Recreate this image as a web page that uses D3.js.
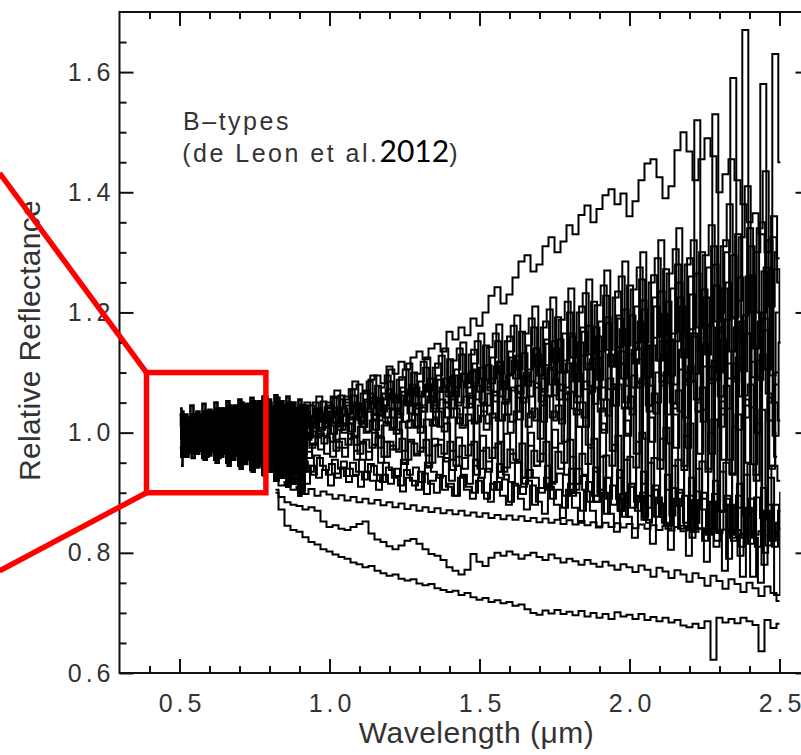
<!DOCTYPE html>
<html>
<head>
<meta charset="utf-8">
<script src="https://cdn.jsdelivr.net/npm/d3@7/dist/d3.min.js"></script>
<style>
  body { margin: 0; background: #fff; }
  svg { display: block; }
</style>
</head>
<body>
<div id="chart"></div>
<script>
// Spectra, reflectance x 1000.
// Visible part: every 0.01 um from about 0.50 um (each object sampled on its own grid).
const visStep = 0.01;
const visStarts = [0.500, 0.504, 0.507, 0.502, 0.505, 0.508, 0.501, 0.506, 0.503, 0.509, 0.5015, 0.5045, 0.5075, 0.5055];
const vis1 = [1030,1012,1025,1008,1021,1015,1030,1010,1024,1018,1035,1012,1026,1020,1038,1015,1030,1022,1040,1018,1034,1025,1042,1020,1036,1028,1048,1022,1040,1030,1055,1025,1044,1032,1050,1028,1046,1035,1040,1022,1038,1030,1025];
const vis2 = [1005,990,1012,985,1000,1015,992,1008,995,1018,988,1004,1012,990,1010,998,1020,985,1006,1014,992,1010,1000,1024,990,1008,1016,994,1012,1002,1026,988,1010,1018,995,1012,1004,1022,990,1008,1000,1015,995];
const vis3 = [980,1000,965,990,975,995,970,985,1002,968,988,978,996,965,984,975,992,962,982,970,990,960,978,968,986,955,975,965,982,950,972,960,978,945,968,955,972,940,962,950,968,935,955];
const vis4 = [990,1010,975,998,985,1005,978,994,982,1000,972,990,980,995,968,985,975,990,962,980,970,985,955,975,962,978,945,968,955,970,935,958,945,962,925,950,935,952,915,940,925,945,905];
const vis5 = [945,1020,960,1005,970,1015,985,1000,975,1010,990,1025,980,1000,995,1015,975,1005,990,1020,985,1000,1010,995,1025,980,1005,1015,990,1030,985,1010,1000,1020,975,1005,995,1015,980,1000,990,1010,985];
const vis6 = [1035,985,1020,995,1030,975,1015,1000,1035,980,1020,1005,1040,985,1025,1000,1045,978,1018,1008,1050,982,1022,1000,1052,975,1025,1005,1060,970,1030,1000,1058,965,1025,995,1050,960,1020,990,1045,958,1010];
const vis7 = [975,960,985,968,980,970,965,982,958,975,962,978,955,970,960,975,950,968,955,970,945,962,948,965,938,958,942,955,930,948,935,945,920,940,925,938,910,930,915,925,895,920,900];
const vis8 = [1010,1025,995,1018,1005,1022,1000,1030,1008,1020,1035,1002,1028,1012,1040,1005,1025,1018,1045,1008,1030,1015,1048,1010,1032,1020,1052,1005,1035,1022,1040,1000,1030,1015,1045,1002,1025,1010,1035,998,1020,1008,1030];
const vis9 = [995,1015,1000,970,1008,990,1012,985,1005,975,998,1010,980,1002,990,1015,972,995,985,1008,968,992,980,1005,962,988,975,1000,958,985,970,995,950,980,965,990,945,975,960,985,940,970,955];
const vis10 = [1020,1000,1005,1025,992,1010,1000,1028,995,1015,1005,1030,990,1012,1002,1032,985,1010,998,1035,982,1008,995,1038,980,1005,990,1040,975,1002,988,1035,970,998,985,1030,965,995,980,1025,960,990,975];
const vis11 = [1040,960,1030,970,1045,965,1035,975,1048,960,1038,968,1050,958,1040,965,1052,955,1042,962,1055,950,1045,958,1058,945,1048,952,1060,940,1050,948,1062,930,1052,940,1060,920,1050,930,1055,910,1045];
const vis12 = [990,1005,980,1000,985,1010,975,998,988,1012,978,1002,990,1015,972,1000,985,1018,970,998,982,1020,965,995,980,1022,960,992,975,1025,955,990,970,1020,948,985,965,1018,940,980,958,1012,935];
const vis13 = [1015,1028,1002,1022,1010,1030,998,1025,1012,1035,1000,1028,1015,1038,995,1030,1018,1042,992,1032,1020,1045,990,1035,1022,1048,985,1038,1025,1050,980,1040,1022,1052,975,1038,1020,1048,970,1035,1015,1045,965];
const vis14 = [960,985,970,995,958,982,975,1000,955,980,972,998,950,978,970,995,945,975,968,992,940,972,962,990,935,968,958,985,928,962,952,980,920,958,948,975,912,950,940,970,900,945,935];

// Near-infrared part: every 0.02 um from about 0.82 um up to 2.50 um.
const nirStep = 0.02;
const nirStarts = [0.820, 0.820, 0.820, 0.828, 0.812, 0.824, 0.816, 0.830, 0.822, 0.820, 0.826, 0.814, 0.818, 0.832, 0.810, 0.827, 0.823, 0.815, 0.825, 0.817];
const nir1 = [900,872,845,838,835,826,818,814,806,802,797,793,790,784,781,776,778,770,766,762,764,757,754,756,749,746,748,741,738,735,737,730,733,726,722,725,718,721,716,718,712,714,706,700,697,704,699,705,698,702,696,703,694,700,692,698,690,701,694,697,690,698,688,693,686,692,684,688,679,676,682,675,686,622,692,684,690,683,692,686,680,636,688,675,682];
const nir2 = [905,893,884,880,878,872,876,870,852,843,846,840,838,843,848,852,832,822,818,811,806,812,820,823,815,806,798,795,788,776,770,764,772,798,785,778,792,800,795,802,797,790,796,800,793,788,797,791,784,790,786,780,788,782,777,785,779,772,781,776,768,779,772,760,775,769,758,771,764,752,766,758,745,762,753,740,756,748,735,750,741,728,744,733,720];
const nir3 = [925,912,918,905,910,898,906,895,902,897,890,896,887,893,884,890,882,888,879,884,876,882,873,879,870,876,868,874,866,871,864,870,862,867,860,866,858,863,856,862,855,861,853,858,851,857,850,855,848,854,847,853,846,851,844,850,843,849,842,848,841,847,840,846,838,845,837,843,836,842,835,841,834,840,833,839,832,838,831,837,830,836,829,835,828];
const nir4 = [955,940,962,935,950,945,930,958,938,948,925,952,940,930,955,935,945,920,950,938,928,955,930,942,918,950,935,925,958,920,945,930,915,955,925,940,905,948,930,918,952,910,938,925,900,945,918,932,895,940,915,928,885,942,905,925,880,938,900,915,870,935,895,912,860,930,888,905,850,925,880,900,835,920,870,895,820,915,862,890,810,908,855,880,840];
const nir5 = [975,990,962,985,970,995,958,980,972,992,960,985,975,998,955,982,968,1000,950,985,972,1005,948,988,965,1010,942,990,960,1015,938,992,958,1020,930,995,952,1025,925,998,950,1035,915,1000,945,1045,905,1005,940,1055,895,1010,930,1065,885,1015,925,1075,870,1020,915,1085,860,1025,905,1095,845,1030,900,1100,835,1035,890,1110,820,1040,880,1115,810,1045,870,1120,800,1050,960];
const nir6 = [985,1000,975,995,990,1008,980,1002,995,1012,988,1005,1015,992,1010,1000,1020,995,1012,1025,998,1018,1008,1030,1000,1022,1012,1035,1002,1025,1040,1008,1030,1015,1045,1005,1032,1020,1050,1000,1035,1058,1010,1040,990,1062,1025,1045,985,1068,1030,1050,980,1075,1035,1055,970,1080,1040,1060,965,1090,1045,1065,955,1100,1050,1070,945,1110,1055,1075,940,1120,1060,1078,930,1125,1062,1080,920,1130,1065,1050,1020];
const nir7 = [995,1010,990,1015,1002,1020,995,1025,1008,1018,1030,1005,1028,1015,1038,1010,1035,1022,1045,1015,1040,1030,1052,1020,1048,1035,1060,1025,1055,1042,1068,1030,1060,1048,1078,1035,1065,1052,1085,1030,1070,1058,1095,1025,1075,1062,1105,1020,1080,1065,1115,1010,1085,1070,1125,1000,1090,1072,1135,995,1095,1075,1145,985,1100,1078,1155,975,1105,1080,1165,965,1110,1082,1175,955,1115,1085,1185,950,1118,1088,1190,945,1100];
const nir8 = [1000,1015,995,1020,1008,1028,1002,1032,1015,1035,1010,1040,1022,1045,1018,1052,1030,1058,1025,1062,1038,1068,1032,1075,1045,1080,1040,1088,1050,1092,1045,1098,1058,1105,1050,1112,1062,1118,1055,1125,1068,1132,1060,1140,1072,1148,1062,1155,1075,1160,1060,1168,1078,1175,1055,1182,1080,1190,1050,1195,1082,1205,1045,1210,1085,1218,1040,1225,1088,1230,1035,1238,1090,1245,1030,1250,1092,1258,1025,1262,1095,1268,1020,1272,1150];
const nir9 = [1005,1020,1000,1025,1012,1035,1008,1040,1020,1045,1015,1055,1030,1062,1025,1070,1040,1078,1035,1085,1050,1092,1045,1100,1060,1108,1052,1115,1068,1122,1060,1130,1075,1138,1068,1145,1082,1152,1072,1160,1090,1168,1078,1175,1095,1185,1080,1192,1100,1200,1085,1210,1105,1218,1088,1228,1110,1235,1090,1245,1115,1255,1092,1262,1120,1272,1095,1280,1125,1290,1098,1300,1130,1310,1100,1320,1135,1330,1102,1340,1140,1350,1105,1360,1250];
const nir10 = [1010,1025,1018,1032,1040,1028,1045,1038,1052,1040,1058,1062,1050,1072,1080,1068,1088,1095,1082,1110,1098,1118,1105,1125,1135,1122,1140,1148,1135,1168,1155,1175,1162,1190,1178,1200,1228,1242,1215,1230,1258,1285,1295,1268,1280,1310,1325,1300,1318,1345,1330,1362,1378,1350,1372,1395,1405,1380,1398,1360,1385,1420,1448,1455,1425,1390,1410,1470,1500,1468,1420,1455,1490,1460,1400,1430,1455,1420,1380,1350,1365,1330,1300,1325,1290];
const nir11 = [1000,1030,985,1040,1005,1050,995,1060,1010,1035,1070,1015,1045,1085,1020,1055,1095,1030,1065,1105,1040,1075,1115,1045,1085,1125,1050,1095,1140,1060,1105,1150,1065,1115,1165,1075,1125,1180,1080,1135,1195,1090,1145,1210,1095,1155,1225,1100,1165,1240,1110,1175,1255,1115,1185,1270,1120,1195,1285,1130,1210,1300,1140,1225,1320,1150,1240,1340,1160,1260,1520,1180,1275,1530,1200,1300,1590,1220,1670,1250,1300,1580,1230,1630,1450];
const nir12 = [1015,995,1030,1008,1040,1015,1025,1050,1018,1042,1060,1030,1055,1072,1040,1065,1085,1048,1075,1095,1055,1088,1105,1062,1098,1118,1070,1108,1128,1078,1120,1140,1085,1130,1152,1090,1142,1165,1098,1152,1178,1105,1165,1190,1110,1175,1205,1118,1188,1218,1125,1200,1232,1130,1212,1245,1138,1225,1260,1145,1238,1275,1150,1250,1290,1160,1265,1305,1168,1280,1320,1175,1295,1345,1185,1310,1380,1192,1325,1410,1200,1340,1435,1210,1300];
const nir13 = [962,948,970,940,958,952,935,962,945,930,955,940,928,950,935,922,948,930,918,942,925,912,938,920,905,932,915,900,928,910,895,925,905,890,920,900,885,918,895,880,915,890,872,912,885,865,910,880,858,905,875,850,902,870,842,900,865,835,898,860,825,895,855,815,892,850,805,890,845,795,888,840,785,885,835,770,880,830,760,875,825,750,870,820,850];
const nir14 = [985,970,995,975,990,968,982,998,965,985,975,960,990,970,985,955,980,992,960,978,968,950,985,962,975,945,978,988,952,970,960,940,980,955,970,935,975,985,942,965,950,925,978,945,965,915,975,982,930,960,940,905,975,935,960,890,980,925,955,875,985,915,950,860,990,905,945,840,995,895,940,820,1000,885,935,790,1010,875,930,760,1015,865,925,730,900];
const nir15 = [995,1010,985,1005,1000,1015,988,1008,995,1020,985,1012,1000,1025,980,1015,1002,1030,975,1018,1005,1035,970,1020,1008,1042,962,1022,1010,1050,955,1025,1012,1058,945,1028,1015,1068,935,1030,1018,1078,925,1032,1020,1090,912,1035,1022,1102,900,1038,1025,1115,885,1040,1028,1128,870,1042,1030,1140,855,1045,1032,1152,840,1048,1035,1165,825,1050,1038,1178,810,1052,1040,1190,795,1055,1042,1200,780,1058,1000];
const nir16 = [1010,995,1022,1005,1030,1000,1018,1035,1008,1025,1042,1012,1032,1050,1015,1040,1058,1020,1045,1065,1025,1052,1072,1030,1060,1080,1035,1068,1090,1040,1075,1098,1042,1082,1108,1045,1090,1118,1048,1098,1128,1050,1105,1140,1052,1112,1152,1055,1120,1165,1050,1128,1178,1048,1135,1192,1045,1142,1205,1040,1150,1220,1035,1158,1235,1030,1165,1250,1025,1172,1265,1018,1180,1280,1010,1188,1295,1005,1195,1310,1000,1200,1320,995,1150];
const nir17 = [990,1002,978,995,985,1000,975,992,982,998,970,990,980,995,965,988,975,992,960,985,972,990,955,982,968,988,950,980,965,985,945,978,962,985,940,975,958,982,935,972,955,982,925,970,952,985,915,968,950,988,905,965,948,990,895,962,945,995,885,960,942,1000,875,958,940,1008,862,955,938,1015,850,952,935,1022,838,950,932,1030,825,948,930,1038,812,945,920];
const nir18 = [1002,988,1012,995,1008,1020,992,1015,1005,1025,998,1018,1030,1002,1022,1010,1035,1005,1028,1040,1008,1032,1018,1045,1010,1035,1050,1012,1040,1025,1055,1015,1042,1062,1018,1048,1030,1068,1020,1052,1075,1022,1058,1035,1082,1018,1060,1090,1015,1065,1040,1098,1010,1068,1105,1005,1072,1045,1115,998,1075,1122,990,1078,1050,1130,982,1080,1138,975,1085,1055,1148,965,1088,1155,955,1090,1060,1165,948,1092,1170,940,1080];
const nir19 = [935,948,922,940,930,915,945,925,938,912,932,942,918,928,910,935,920,905,930,915,940,902,925,912,935,898,920,930,905,915,895,928,910,900,925,890,915,905,922,885,912,898,920,880,908,925,890,905,875,915,900,870,918,895,905,865,912,890,860,910,885,900,850,905,882,845,908,878,895,838,902,872,830,898,868,890,825,895,862,815,892,858,880,810,870];
const nir20 = [1020,1005,1035,1012,1028,1045,1010,1038,1022,1050,1018,1042,1060,1025,1048,1035,1065,1030,1055,1072,1038,1062,1048,1080,1040,1068,1090,1045,1075,1060,1095,1050,1082,1102,1055,1088,1070,1110,1060,1095,1120,1065,1100,1085,1130,1068,1108,1140,1070,1115,1098,1150,1072,1122,1160,1075,1130,1110,1172,1078,1138,1185,1080,1145,1120,1198,1082,1152,1210,1085,1160,1135,1225,1088,1168,1240,1090,1175,1150,1260,1092,1185,1275,1095,1200];

const visSpectra = [vis1, vis2, vis3, vis4, vis5, vis6, vis7, vis8, vis9, vis10, vis11, vis12, vis13, vis14];
const nirSpectra = [nir1, nir2, nir3, nir4, nir5, nir6, nir7, nir8, nir9, nir10, nir11, nir12, nir13, nir14, nir15, nir16, nir17, nir18, nir19, nir20];

const xMajorTicks = [0.5, 1.0, 1.5, 2.0, 2.5];
const yMajorTicks = [0.6, 0.8, 1.0, 1.2, 1.4, 1.6];
const xTitle = 'Wavelength (\u03bcm)';
const yTitle = 'Relative Reflectance';

// zoom box drawn over the chart, in data units
const zoomBox = { x0: 0.39, x1: 0.788, y0: 0.9, y1: 1.1 };
const pointerStart = { x: -0.1, yTop: 1.432, yBottom: 0.77 };

const cfg = {
  width: 801,
  height: 755,
  left: 119.5,
  top: 12,
  bottom: 673,
  pxPerUm: 300,
  major: 14,
  minor: 7,
  font: '"Liberation Sans", Arial, Helvetica, sans-serif',
  textColor: '#333'
};

const x = d3.scaleLinear().domain([0.3, 2.6]).range([cfg.left, cfg.left + 2.3 * cfg.pxPerUm]);
const y = d3.scaleLinear().domain([0.6, 1.7]).range([cfg.bottom, cfg.top]);

const svg = d3.select('#chart').append('svg')
  .attr('width', cfg.width)
  .attr('height', cfg.height);

// spectra stop at 2.5 um
svg.append('defs').append('clipPath').attr('id', 'plot-clip')
  .append('rect')
  .attr('x', x(0.3)).attr('y', y(1.7))
  .attr('width', x(2.503) - x(0.3)).attr('height', y(0.6) - y(1.7));

const line = d3.line()
  .x(d => x(d[0]))
  .y(d => y(d[1]))
  .curve(d3.curveStep);

const toPoints = (arr, start, step) => arr.map((v, i) => [start + i * step, v / 1000]);

const plot = svg.append('g').attr('clip-path', 'url(#plot-clip)');
nirSpectra.forEach((s, k) => {
  plot.append('path')
    .attr('d', line(toPoints(s, nirStarts[k], nirStep)))
    .attr('fill', 'none')
    .attr('stroke', '#000')
    .attr('stroke-width', 2);
});
visSpectra.forEach((s, k) => {
  plot.append('path')
    .attr('d', line(toPoints(s, visStarts[k], visStep)))
    .attr('fill', 'none')
    .attr('stroke', '#000')
    .attr('stroke-width', 2.6);
});

// axes: frame with inward ticks on all four sides
const xMinor = d3.range(4, 26).map(v => v / 10).filter(v => !xMajorTicks.some(m => Math.abs(m - v) < 1e-6));
const yMinor = d3.range(13, 34).map(v => v / 20).filter(v => !yMajorTicks.some(m => Math.abs(m - v) < 1e-6));

function styleAxis(g) {
  g.select('.domain').remove();
  g.selectAll('.tick line').attr('stroke', '#111').attr('stroke-width', 2);
  g.selectAll('.tick text')
    .attr('fill', cfg.textColor)
    .style('font-family', cfg.font)
    .style('font-size', '25px')
    .style('letter-spacing', '4px');
}

svg.append('g')
  .attr('transform', `translate(0,${cfg.bottom})`)
  .call(d3.axisBottom(x).tickValues(xMajorTicks).tickSize(-cfg.major).tickPadding(21).tickFormat(d3.format('.1f')))
  .call(styleAxis)
  .call(g => g.selectAll('.tick text').attr('dx', '2px'));
svg.append('g')
  .attr('transform', `translate(0,${cfg.bottom})`)
  .call(d3.axisBottom(x).tickValues(xMinor).tickSize(-cfg.minor).tickFormat(''))
  .call(styleAxis);
svg.append('g')
  .attr('transform', `translate(0,${cfg.top})`)
  .call(d3.axisTop(x).tickValues(xMajorTicks).tickSize(-cfg.major).tickFormat(''))
  .call(styleAxis);
svg.append('g')
  .attr('transform', `translate(0,${cfg.top})`)
  .call(d3.axisTop(x).tickValues(xMinor).tickSize(-cfg.minor).tickFormat(''))
  .call(styleAxis);

svg.append('g')
  .attr('transform', `translate(${cfg.left},0)`)
  .call(d3.axisLeft(y).tickValues(yMajorTicks).tickSize(-cfg.major).tickPadding(5).tickFormat(d3.format('.1f')))
  .call(styleAxis);
svg.append('g')
  .attr('transform', `translate(${cfg.left},0)`)
  .call(d3.axisLeft(y).tickValues(yMinor).tickSize(-cfg.minor).tickFormat(''))
  .call(styleAxis);
svg.append('g')
  .attr('transform', `translate(${x(2.6)},0)`)
  .call(d3.axisRight(y).tickValues(yMajorTicks).tickSize(-cfg.major).tickFormat(''))
  .call(styleAxis);
svg.append('g')
  .attr('transform', `translate(${x(2.6)},0)`)
  .call(d3.axisRight(y).tickValues(yMinor).tickSize(-cfg.minor).tickFormat(''))
  .call(styleAxis);

svg.append('rect')
  .attr('x', x(0.3)).attr('y', y(1.7))
  .attr('width', x(2.6) - x(0.3)).attr('height', y(0.6) - y(1.7))
  .attr('fill', 'none')
  .attr('stroke', '#111')
  .attr('stroke-width', 2);

// axis titles
svg.append('text')
  .attr('x', x(1.49))
  .attr('y', 743)
  .attr('text-anchor', 'middle')
  .attr('fill', cfg.textColor)
  .style('font-family', cfg.font)
  .style('font-size', '30px')
  .style('letter-spacing', '0.5px')
  .text(xTitle);

svg.append('text')
  .attr('transform', `translate(40,${y(1.2) + 28}) rotate(-90)`)
  .attr('text-anchor', 'middle')
  .attr('fill', cfg.textColor)
  .style('font-family', cfg.font)
  .style('font-size', '30px')
  .style('letter-spacing', '0.3px')
  .text(yTitle);

// label inside the plot
const label = svg.append('text')
  .attr('fill', cfg.textColor)
  .style('font-family', cfg.font)
  .style('font-size', '25px')
  .style('letter-spacing', '2.5px');
label.append('tspan').attr('x', x(0.512)).attr('y', y(1.504)).text('B\u2013types');
label.append('tspan').attr('x', x(0.509)).attr('y', y(1.451)).text('(de Leon et al.');
label.append('tspan')
  .attr('fill', '#000')
  .style('font-family', 'Lato, "Open Sans", sans-serif')
  .style('font-size', '30px')
  .style('letter-spacing', '0px')
  .text('2012');
label.append('tspan').text(')');

// red zoom box and pointer lines
const red = svg.append('g')
  .attr('stroke', '#ff0000')
  .attr('stroke-width', 5.5)
  .attr('fill', 'none');
red.append('rect')
  .attr('x', x(zoomBox.x0)).attr('y', y(zoomBox.y1))
  .attr('width', x(zoomBox.x1) - x(zoomBox.x0))
  .attr('height', y(zoomBox.y0) - y(zoomBox.y1));
red.append('line')
  .attr('x1', x(pointerStart.x)).attr('y1', y(pointerStart.yTop))
  .attr('x2', x(zoomBox.x0)).attr('y2', y(zoomBox.y1));
red.append('line')
  .attr('x1', x(pointerStart.x)).attr('y1', y(pointerStart.yBottom))
  .attr('x2', x(zoomBox.x0)).attr('y2', y(zoomBox.y0));
</script>
</body>
</html>
